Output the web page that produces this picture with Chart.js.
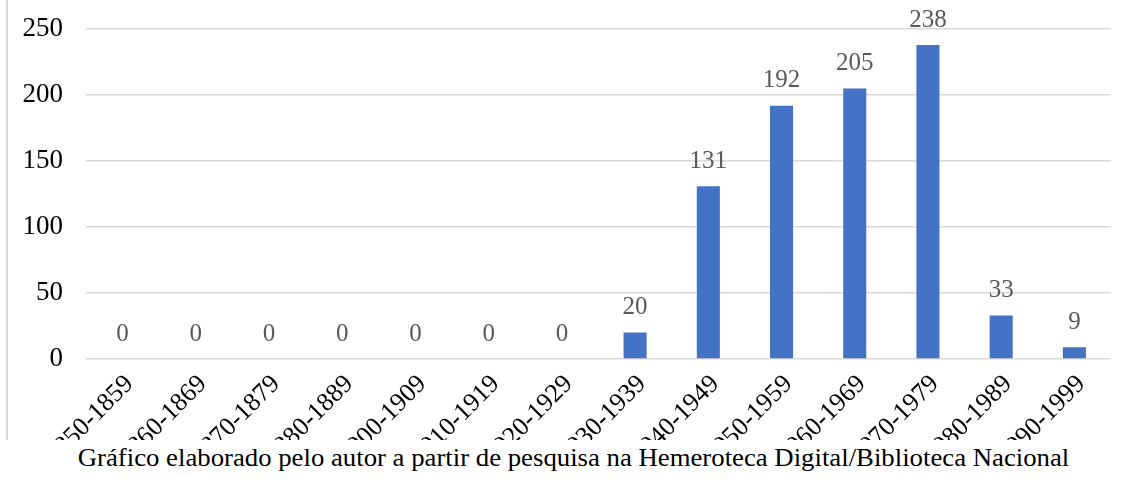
<!DOCTYPE html>
<html>
<head>
<meta charset="utf-8">
<script src="https://cdn.jsdelivr.net/npm/chart.js@4"></script>
<style>
  body { margin: 0; background: #fff; width: 1135px; height: 492px; overflow: hidden; }
  #frame { position: absolute; left: 0; top: 0; width: 1135px; height: 440px; overflow: hidden; }
  #chartBox { position: absolute; left: 0; top: -10px; width: 1135px; height: 520px; }
  #edge { position: absolute; left: 6px; top: 0; width: 2px; height: 440px; background: #d9d9d9; }
  #caption { position: absolute; left: 6px; top: 444px; width: 1135px; text-align: center;
    font-family: "Liberation Serif", "Times New Roman", serif; font-size: 25px; color: #000;
    transform: scaleX(1.07); transform-origin: center; white-space: nowrap; }
</style>
</head>
<body>
<div id="frame">
  <div id="chartBox"><canvas id="chart"></canvas></div>
  <div id="edge"></div>
</div>
<div id="caption">Gráfico elaborado pelo autor a partir de pesquisa na Hemeroteca Digital/Biblioteca Nacional</div>
<script>
// decades (the 1890s are not in the source chart)
const decades = [
  "1850-1859", "1860-1869", "1870-1879", "1880-1889", "1900-1909",
  "1910-1919", "1920-1929", "1930-1939", "1940-1949", "1950-1959",
  "1960-1969", "1970-1979", "1980-1989", "1990-1999"
];
// number of occurrences per decade
const counts = [0, 0, 0, 0, 0, 0, 0, 20, 131, 192, 205, 238, 33, 9];
// y axis ticks
const yTicks = [0, 50, 100, 150, 200, 250];

const serif = '"Liberation Serif", "Times New Roman", serif';

//draws the value above each bar
const valueLabels = {
  id: "valueLabels",
  afterDatasetsDraw(chart) {
    const ctx = chart.ctx;
    const meta = chart.getDatasetMeta(0);
    ctx.save();
    ctx.font = "25px " + serif;
    ctx.fillStyle = "#595959";
    ctx.textAlign = "center";
    ctx.textBaseline = "middle";
    meta.data.forEach((bar, i) => {
      ctx.fillText(counts[i], bar.x, bar.y - 25);
    });
    ctx.restore();
  }
};

new Chart(document.getElementById("chart"), {
  type: "bar",
  plugins: [valueLabels],
  data: {
    labels: decades,
    datasets: [{
      data: counts,
      backgroundColor: "#4472c4",
      borderWidth: 0,
      categoryPercentage: 1,
      barPercentage: 0.315
    }]
  },
  options: {
    responsive: true,
    maintainAspectRatio: false,
    animation: false,
    layout: { padding: { top: 18, right: 24, bottom: 0, left: 0 } },
    plugins: {
      legend: { display: false },
      tooltip: { enabled: false },
      title: { display: false }
    },
    scales: {
      x: {
        grid: { display: false },
        border: { display: false },
        ticks: {
          autoSkip: false,
          minRotation: 45,
          maxRotation: 45,
          padding: 2,
          labelOffset: 7,
          color: "#000",
          font: { family: serif, size: 26 }
        },
        afterFit: (scale) => { scale.height = 151; }
      },
      y: {
        min: 0,
        max: 250,
        afterBuildTicks: (scale) => { scale.ticks = yTicks.map(v => ({ value: v })); },
        grid: { color: "#d9d9d9", lineWidth: 1.5, drawTicks: false },
        border: { display: false },
        ticks: {
          padding: 23,
          color: "#000",
          font: { family: serif, size: 27 }
        },
        afterFit: (scale) => { scale.width = 86; }
      }
    }
  }
});
</script>
</body>
</html>
